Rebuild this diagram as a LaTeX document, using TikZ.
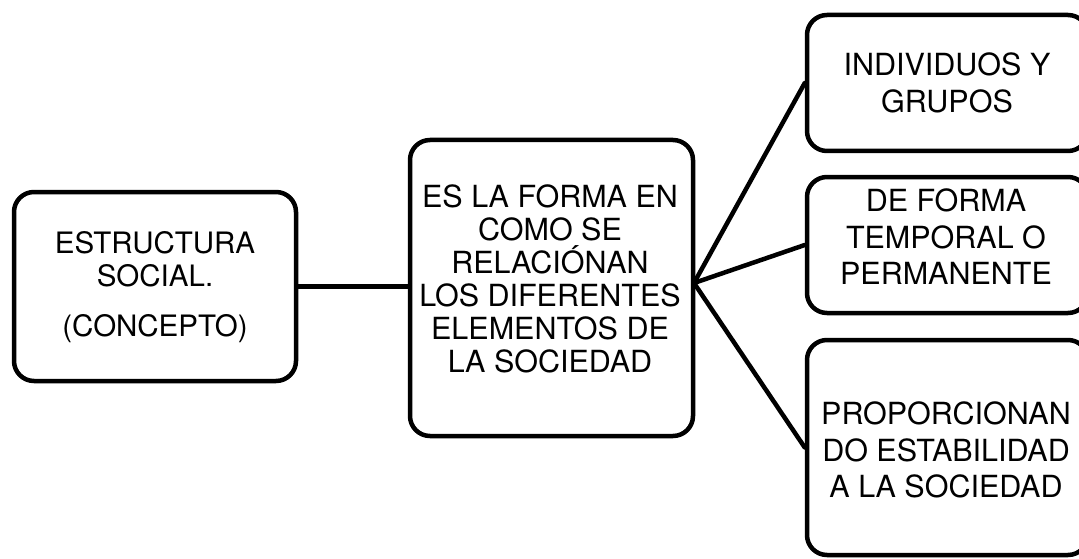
\documentclass[tikz,border=0pt]{standalone}
\usepackage{fontspec}
\setmainfont{TeX Gyre Heros}
\begin{document}
\begin{tikzpicture}[x=1pt,y=-1pt,
  box/.style={draw=black,line width=4.5pt,rounded corners=20pt,fill=white,inner sep=0pt},
  ltxt/.style={align=center,inner sep=0pt,font=\fontsize{29.5}{33}\selectfont},
  txt/.style={align=center,inner sep=0pt,font=\fontsize{30.5}{33}\selectfont},
  rtxt/.style={align=center,inner sep=0pt,font=\fontsize{30.5}{36.5}\selectfont},
  conn/.style={line width=4.5pt,black}]
\useasboundingbox (0,0) rectangle (1079,559);
\begin{scope}
\clip (0,0) rectangle (1079,559);
\node[box,minimum width=282pt,minimum height=189pt] (left) at (155,286.5) {};
\node[box,minimum width=283pt,minimum height=296pt] (mid) at (551.5,288) {};
\node[box,minimum width=281pt,minimum height=136pt] (r1) at (947.5,83) {};
\node[box,minimum width=281pt,minimum height=136pt] (r2) at (947.5,245) {};
\node[box,minimum width=281pt,minimum height=215pt] (r3) at (947.5,447.5) {};
\coordinate (fan) at (694,283);
\draw[conn] (left.east) -- (left.east -| mid.west);
\draw[conn,line cap=round] (fan) -- (r1.west);
\draw[conn,line cap=round] (fan) -- (r2.west);
\draw[conn,line cap=round] (fan) -- (r3.west);
\end{scope}
\node[ltxt] (tleft) at (155,287) {ESTRUCTURA\\SOCIAL.\\[17pt](CONCEPTO)};
\node[txt] (tmid) at (550,279) {ES LA FORMA EN\\COMO SE\\RELACIÓNAN\\LOS DIFERENTES\\ELEMENTOS DE\\LA SOCIEDAD};
\node[rtxt] (t1) at (947,83) {INDIVIDUOS Y\\GRUPOS};
\node[rtxt] (t2) at (946,237) {DE FORMA\\TEMPORAL O\\PERMANENTE};
\node[rtxt] (t3) at (946,450) {PROPORCIONAN\\DO ESTABILIDAD\\A LA SOCIEDAD};
\end{tikzpicture}
\end{document}
